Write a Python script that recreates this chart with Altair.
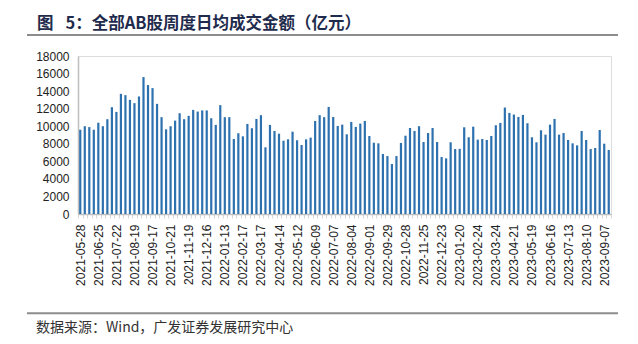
import json
import altair as alt
import pandas as pd

title_text = "图\u2002\u00a05：全部AB股周度日均成交金额（亿元）"
source_text = "数据来源：Wind，广发证券发展研究中心"

tick_labels = [
    "2021-05-28", "2021-06-25", "2021-07-22", "2021-08-19", "2021-09-17",
    "2021-10-21", "2021-11-19", "2021-12-16", "2022-01-13", "2022-02-17",
    "2022-03-17", "2022-04-14", "2022-05-12", "2022-06-09", "2022-07-07",
    "2022-08-04", "2022-09-01", "2022-09-29", "2022-10-28", "2022-11-25",
    "2022-12-23", "2023-01-20", "2023-02-24", "2023-03-24", "2023-04-21",
    "2023-05-19", "2023-06-16", "2023-07-13", "2023-08-10", "2023-09-07",
]

values = [
    9600, 10000, 9900, 9600, 10400, 10000, 10800, 12170, 11630, 13690,
    13540, 13000, 12630, 13390, 15600, 14690, 14340, 12550, 11030, 9650,
    10000, 10640, 11480, 10800, 11180, 11860, 11670, 11800, 11800, 10910,
    10150, 12400, 11030, 11030, 8545, 9200, 8850, 10260, 9770, 10830,
    11260, 7600, 10150, 9460, 9150, 8350, 8510, 9380, 8400, 7860,
    8510, 8700, 10600, 11260, 11030, 12200, 11050, 10030, 10180, 9080,
    10490, 9920, 10300, 10600, 8890, 8120, 8050, 6830, 6600, 5690,
    6600, 8090, 8920, 9800, 9460, 10000, 8200, 9230, 9800, 8200,
    6490, 6340, 8170, 7400, 7420, 9880, 8740, 9950, 8470, 8545,
    8430, 8890, 10110, 10380, 12130, 11520, 11330, 11060, 11290, 10340,
    8740, 8170, 9540, 9040, 10180, 10830, 9040, 9230, 8430, 8050,
    7820, 9460, 8430, 7400, 7520, 9575, 8010, 7290,
]

df = pd.DataFrame({"idx": list(range(len(values))), "value": values})

label_expr = ("datum.value % 4 == 0 ? " + json.dumps(tick_labels) +
              "[datum.value / 4] : ''")

W, H = 533, 158

bars = alt.Chart(df).mark_bar(size=2.2, color="#2E71AF").encode(
    x=alt.X("idx:O",
            scale=alt.Scale(paddingInner=0, paddingOuter=0),
            axis=alt.Axis(title=None, labelExpr=label_expr, labelAngle=-90,
                          labelFont="Liberation Sans", labelFontSize=12,
                          labelColor="#222222", labelPadding=6,
                          domainColor="#BFBFBF", domainWidth=1.5,
                          tickColor="#D9D9D9", tickSize=4, tickBand="extent",
                          grid=False, labelOverlap=False)),
    y=alt.Y("value:Q",
            scale=alt.Scale(domain=[0, 18000], nice=False),
            axis=alt.Axis(title=None, values=list(range(0, 18001, 2000)),
                          format="d",
                          labelFont="Liberation Sans", labelFontSize=12,
                          labelColor="#222222", labelPadding=9,
                          ticks=False, grid=False,
                          domainColor="#BFBFBF", domainWidth=1.5)),
)

one = pd.DataFrame({"t": [0]})

title = alt.Chart(one).mark_text(
    text=title_text, align="left", baseline="middle", fontSize=16.5,
    fontWeight="bold", font="Noto Sans CJK SC", color="#1F2B4D"
).encode(x=alt.value(-41), y=alt.value(-32.5))

top_rule = alt.Chart(one).mark_rule(color="#8C8C8C", strokeWidth=2).encode(
    x=alt.value(-51), x2=alt.value(540), y=alt.value(-21))

bottom_rule = alt.Chart(one).mark_rule(color="#8C8C8C", strokeWidth=2).encode(
    x=alt.value(-51), x2=alt.value(540), y=alt.value(257.3))

source = alt.Chart(one).mark_text(
    text=source_text, align="left", baseline="middle", fontSize=14,
    font="Noto Sans CJK SC", color="#333333"
).encode(x=alt.value(-42), y=alt.value(272))

chart = alt.layer(bars, title, top_rule, bottom_rule, source).properties(
    width=W, height=H,
    autosize=alt.AutoSizeParams(type="none"),
    padding={"left": 78, "top": 56, "right": 27, "bottom": 130},
).configure_view(stroke=None).configure(background="white")

chart.save("out.html", embed_options={"renderer": "svg", "actions": False})
